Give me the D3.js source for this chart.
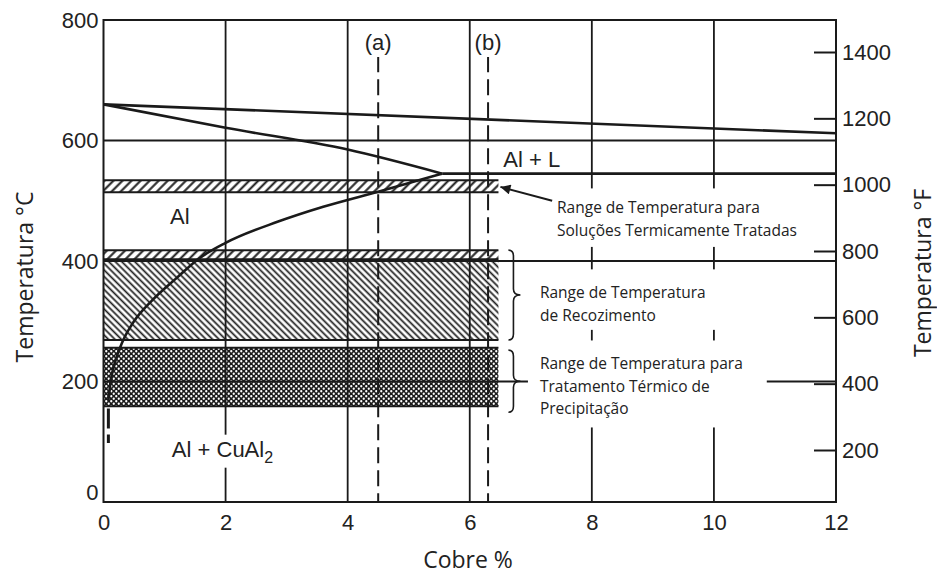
<!DOCTYPE html>
<html>
<head>
<meta charset="utf-8">
<script src="https://cdn.jsdelivr.net/npm/d3@7"></script>
<style>
body { margin: 0; background: #fff; }
svg { display: block; }
.num { font-family: "Liberation Sans", Arial, sans-serif; font-size: 22px; fill: #222; }
.note { font-family: "Open Sans", sans-serif; font-size: 15.5px; fill: #222; }
.title { font-family: "Open Sans", sans-serif; font-size: 23px; fill: #222; }
</style>
</head>
<body>
<div class="chart"></div>
<script>
// values
const cuTicks = [0, 2, 4, 6, 8, 10, 12];
const tempCTicks = [0, 200, 400, 600, 800];
const tempFTicks = [200, 400, 600, 800, 1000, 1200, 1400];

const liquidusCu = [0, 12];
const liquidusT = [660, 612];
const solidusCu = [0, 2, 4, 5.55];
const solidusT = [660, 621, 585, 545];
const eutecticCu = [5.55, 12];
const eutecticT = [545, 545];
const solvusCu = [0.08, 0.12, 0.2, 0.32, 0.5, 0.8, 1.2, 1.55, 2.0, 2.85, 3.6, 4.5, 5.55];
const solvusT = [169, 202, 236, 268, 300, 335, 372, 403, 430, 465, 490, 515, 545];
const solvusTailCu = [0.08, 0.08];
const solvusTailT = [155, 98];

const alloyCu = [4.5, 6.3];
const alloyLabels = ["(a)", "(b)"];
const alloyTop = 740;

const bandLow = [514, 403, 269, 159];
const bandHigh = [534, 418, 403, 256];
const bandFill = ["hatchF", "hatchF", "hatchB", "dots"];
const bandEnd = 6.47;

const notes = [
  ["Range de Temperatura para", "Soluções Termicamente Tratadas"],
  ["Range de Temperatura", "de Recozimento"],
  ["Range de Temperatura para", "Tratamento Térmico de", "Precipitação"]
];

const W = 937, H = 577;
const ink = "#1a1a1a";

const x = d3.scaleLinear().domain([0, 12]).range([103.5, 836]);
const y = d3.scaleLinear().domain([0, 800]).range([502, 20]);
const yF = d3.scaleLinear().domain([200, 1400]).range([450, 52]);

const svg = d3.select(".chart").append("svg")
  .attr("width", W).attr("height", H);

const defs = svg.append("defs");
function hatch(id, angle, gap, sw) {
  const p = defs.append("pattern").attr("id", id)
    .attr("patternUnits", "userSpaceOnUse")
    .attr("width", gap).attr("height", gap)
    .attr("patternTransform", "rotate(" + angle + ")");
  p.append("line").attr("x1", gap / 2).attr("x2", gap / 2)
    .attr("y1", 0).attr("y2", gap)
    .attr("stroke", ink).attr("stroke-width", sw);
}
hatch("hatchF", 45, 6.4, 2);
hatch("hatchB", -45, 4.6, 1.7);
const dp = defs.append("pattern").attr("id", "dots")
  .attr("patternUnits", "userSpaceOnUse").attr("width", 5).attr("height", 5);
dp.append("rect").attr("width", 5).attr("height", 5).attr("fill", ink);
dp.append("circle").attr("cx", 1.25).attr("cy", 1.25).attr("r", 1.15).attr("fill", "#fff");
dp.append("circle").attr("cx", 3.75).attr("cy", 3.75).attr("r", 1.15).attr("fill", "#fff");

// heat treatment bands
const bands = bandLow.map((d, i) => ({lo: d, hi: bandHigh[i], fill: bandFill[i]}));
svg.append("g").selectAll("rect").data(bands).join("rect")
  .attr("x", x(0)).attr("y", d => y(d.hi))
  .attr("width", x(bandEnd) - x(0))
  .attr("height", d => y(d.lo) - y(d.hi))
  .attr("fill", d => "url(#" + d.fill + ")");
const edges = Array.from(new Set(bandLow.concat(bandHigh)));
svg.append("g").selectAll("line").data(edges).join("line")
  .attr("x1", x(0)).attr("x2", x(bandEnd))
  .attr("y1", d => y(d)).attr("y2", d => y(d))
  .attr("stroke", ink).attr("stroke-width", 2);

// grid
const grid = svg.append("g").attr("stroke", ink).attr("stroke-width", 1.8);
grid.selectAll(".v").data(cuTicks.slice(1, -1)).join("line").attr("class", "v")
  .attr("x1", d => x(d)).attr("x2", d => x(d))
  .attr("y1", y(800)).attr("y2", y(0));
grid.selectAll(".h").data(tempCTicks.slice(1, -1)).join("line").attr("class", "h")
  .attr("x1", x(0)).attr("x2", x(12))
  .attr("y1", d => y(d)).attr("y2", d => y(d));

// alloy lines (a), (b)
svg.append("g").selectAll("line").data(alloyCu).join("line")
  .attr("x1", d => x(d)).attr("x2", d => x(d))
  .attr("y1", y(alloyTop)).attr("y2", y(0))
  .attr("stroke", ink).attr("stroke-width", 2)
  .attr("stroke-dasharray", "16,7");

// phase boundaries
const zip = (a, b) => a.map((v, i) => [v, b[i]]);
const line = d3.line().x(d => x(d[0])).y(d => y(d[1]));
const curve = d3.line().x(d => x(d[0])).y(d => y(d[1])).curve(d3.curveMonotoneX);
const bounds = svg.append("g").attr("fill", "none").attr("stroke", ink).attr("stroke-width", 2.6);
bounds.append("path").attr("d", line(zip(liquidusCu, liquidusT)));
bounds.append("path").attr("d", curve(zip(solidusCu, solidusT)));
bounds.append("path").attr("d", line(zip(eutecticCu, eutecticT)));
bounds.append("path").attr("d", curve(zip(solvusCu, solvusT)));
bounds.append("path").attr("d", line(zip(solvusTailCu, solvusTailT)))
  .attr("stroke-width", 3).attr("stroke-dasharray", "20,6");

// frame
svg.append("rect")
  .attr("x", x(0)).attr("y", y(800))
  .attr("width", x(12) - x(0)).attr("height", y(0) - y(800))
  .attr("fill", "none").attr("stroke", ink).attr("stroke-width", 2);

// labels with white backing
function backed(g, pad) {
  const b = g.node().getBBox();
  g.insert("rect", ":first-child")
    .attr("x", b.x - pad[0]).attr("y", b.y - pad[1])
    .attr("width", b.width + pad[0] + pad[2]).attr("height", b.height + pad[1] + pad[3])
    .attr("fill", "#fff");
}

alloyCu.forEach((c, i) => {
  const g = svg.append("g");
  g.append("text").attr("class", "num").attr("font-size", 20)
    .attr("x", x(c)).attr("y", y(763)).attr("dy", "0.35em")
    .attr("text-anchor", "middle").text(alloyLabels[i]);
  backed(g, [2, 2, 2, 2]);
});

const gAL = svg.append("g");
gAL.append("text").attr("class", "num").attr("x", x(6.55)).attr("y", y(568)).attr("dy", "0.35em").text("Al + L");
const gA = svg.append("g");
gA.append("text").attr("class", "num").attr("x", x(1.09)).attr("y", y(475)).attr("dy", "0.35em").text("Al");
const gAC = svg.append("g");
const tAC = gAC.append("text").attr("class", "num").attr("x", x(1.12)).attr("y", y(88)).attr("dy", "0.35em");
tAC.append("tspan").text("Al + CuAl");
tAC.append("tspan").attr("dy", 6).attr("font-size", 16).text("2");
backed(gAC, [3, 2, 3, 2]);

// annotations
const noteAt = [[7.43, 488], [7.15, 347], [7.15, 229]];
const notePad = [[12, 8, 20, 6], [12, 12, 45, 4], [12, 12, 24, 8]];
notes.forEach((lines, i) => {
  const g = svg.append("g");
  const t = g.append("text").attr("class", "note")
    .attr("x", x(noteAt[i][0])).attr("y", y(noteAt[i][1]));
  lines.forEach((s, j) => {
    t.append("tspan").attr("x", x(noteAt[i][0])).attr("dy", j === 0 ? "0.35em" : 22.5).text(s);
  });
  backed(g, notePad[i]);
});

// arrow to solution band
defs.append("marker").attr("id", "arrow").attr("viewBox", "0 0 10 10")
  .attr("refX", 10).attr("refY", 5).attr("markerWidth", 7).attr("markerHeight", 5)
  .attr("markerUnits", "strokeWidth").attr("orient", "auto")
  .append("path").attr("d", "M0,0L10,5L0,10Z").attr("fill", ink);
svg.append("line")
  .attr("x1", x(7.35)).attr("y1", y(500))
  .attr("x2", x(bandEnd) + 2).attr("y2", y(523))
  .attr("stroke", ink).attr("stroke-width", 2)
  .attr("marker-end", "url(#arrow)");

// braces
function brace(y0, y1, bx) {
  const ym = (y0 + y1) / 2;
  return `M${bx - 5},${y0} Q${bx},${y0} ${bx},${y0 + 6} L${bx},${ym - 6} Q${bx},${ym} ${bx + 7},${ym}` +
         ` Q${bx},${ym} ${bx},${ym + 6} L${bx},${y1 - 6} Q${bx},${y1} ${bx - 5},${y1}`;
}
const bx = x(bandEnd) + 15;
svg.append("g").attr("fill", "none").attr("stroke", ink).attr("stroke-width", 1.6)
  .selectAll("path").data([[418, 269], [252, 149]]).join("path")
  .attr("d", d => brace(y(d[0]), y(d[1]), bx));

// axes
const axL = svg.append("g").attr("transform", `translate(${x(0)},0)`)
  .call(d3.axisLeft(y).tickValues(tempCTicks).tickSize(0).tickPadding(5));
const axB = svg.append("g").attr("transform", `translate(0,${y(0)})`)
  .call(d3.axisBottom(x).tickValues(cuTicks).tickSize(0).tickPadding(12));
const axR = svg.append("g").attr("transform", `translate(${x(12)},0)`)
  .call(d3.axisRight(yF).tickValues(tempFTicks).tickFormat(d3.format("d")).tickSize(-22).tickPadding(6));
[axL, axB, axR].forEach(a => {
  a.select(".domain").remove();
  a.attr("font-size", null).attr("font-family", null);
  a.selectAll("text").attr("class", "num").attr("fill", null);
  a.selectAll(".tick line").attr("stroke", ink).attr("stroke-width", 2);
});
axL.selectAll(".tick").filter(d => d === 0).select("text").attr("y", -10);

// titles
svg.append("text").attr("class", "title")
  .attr("transform", "translate(25,277) rotate(-90)")
  .attr("text-anchor", "middle").attr("dy", "0.35em").text("Temperatura °C");
svg.append("text").attr("class", "title")
  .attr("transform", "translate(923,273) rotate(-90)")
  .attr("text-anchor", "middle").attr("dy", "0.35em").text("Temperatura °F");
svg.append("text").attr("class", "title")
  .attr("x", 468).attr("y", 560).attr("dy", "0.35em")
  .attr("text-anchor", "middle").text("Cobre %");
</script>
</body>
</html>
